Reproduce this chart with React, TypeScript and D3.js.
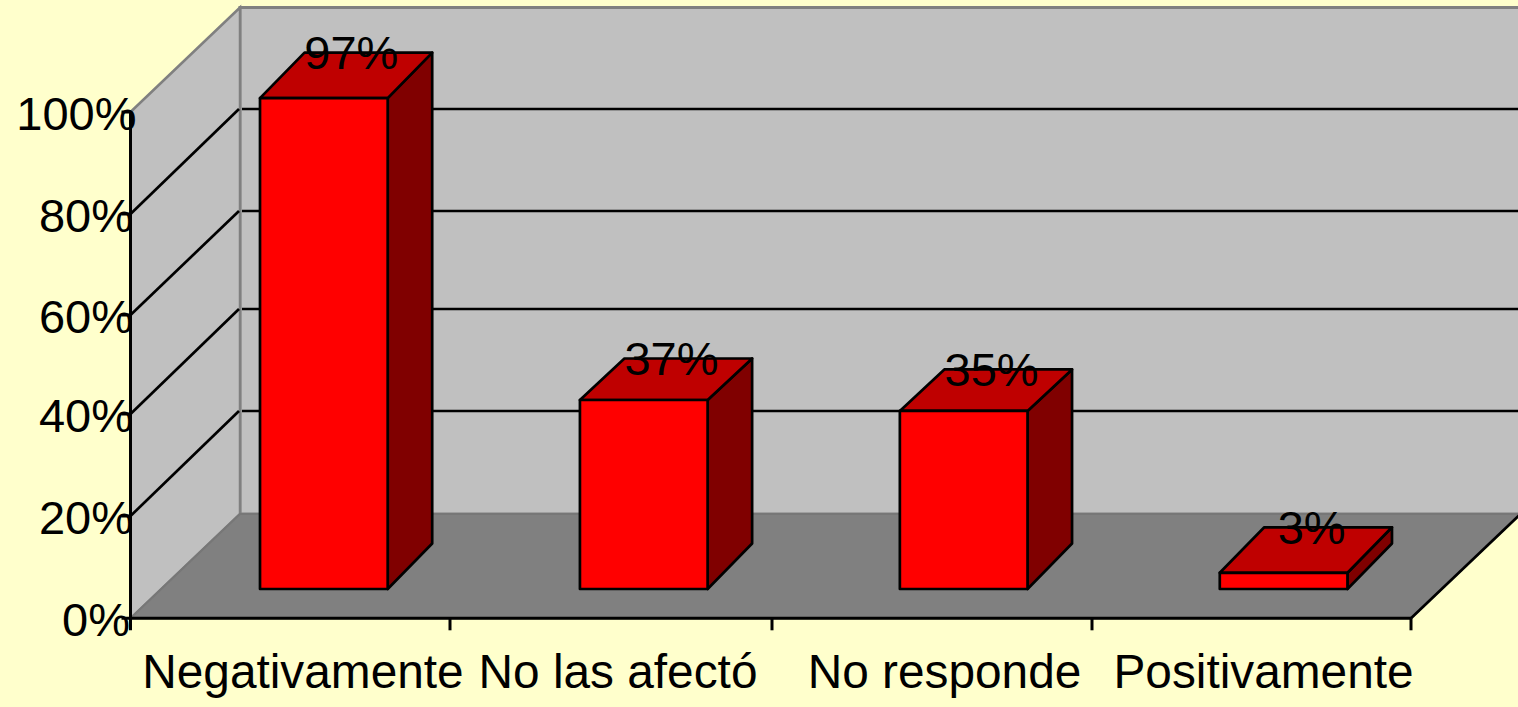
import React from "react";
import * as d3 from "d3";

const categories = ["Negativamente", "No las afectó", "No responde", "Positivamente"];
const values = [97, 37.35, 35.2, 3.2];
const valueLabels = ["97%", "37%", "35%", "3%"];
const axisTicks = [0, 20, 40, 60, 80, 100];
const gridTicks = [20, 40, 60, 80];

const W = 1518;
const H = 707;
const FONT = "'Liberation Sans', Arial, sans-serif";
const LINE = 2.7;
const BASE_Y = 589;

const yFront = d3.scaleLinear().domain(axisTicks).range([618.3, 516, 414, 315, 214, 112]);
const yBack = d3.scaleLinear().domain(axisTicks).range([514, 411, 309, 211, 109, 7.5]);
const yBar = d3.scaleLinear().domain([0, 100]).range([BASE_Y, BASE_Y - 506]);
const xBand = d3.scaleBand<string>().domain(categories).range([130.5, 1411]);
const tickXs = d3.scaleLinear().domain([0, 1, 2, 3, 4]).range([130.5, 450, 772, 1092, 1411]);

const pts = (p: [number, number][]) => p.map((d) => d.join(",")).join(" ");

const barDepthY = (i: number) => (i === 1 || i === 2 ? 41.5 : 45.5);
const labelRight = (t: number) => (t === 100 ? 136.5 : t === 0 ? 130 : 133);
const catShift = (i: number) => [12.4, 7.3, 13.7, 12.6][i];

export default function App() {
  const x0 = yFront(0);
  const left = 130.5;
  const right = 1411;
  const backLeft = 240;
  const backRight = right + (backLeft - left);
  return (
    <svg
      width={W}
      height={H}
      viewBox={`0 0 ${W} ${H}`}
      style={{ position: "fixed", left: 0, top: 0, display: "block", background: "#FFFFCC" }}
    >
      {/* back wall */}
      <rect x={backLeft} y={yBack(100)} width={W} height={yBack(0) - yBack(100)} fill="#C0C0C0" stroke="#808080" strokeWidth={3} />
      {/* side wall */}
      <polygon
        points={pts([[left, yFront(100)], [backLeft, yBack(100)], [backLeft, yBack(0)], [left, x0]])}
        fill="#C0C0C0"
        stroke="#808080"
        strokeWidth={2.5}
      />
      {/* floor */}
      <polygon
        points={pts([[left, x0], [backLeft, yBack(0)], [backRight, yBack(0)], [right, x0]])}
        fill="#808080"
        stroke="#777777"
        strokeWidth={2}
      />
      {/* gridlines */}
      {gridTicks.map((t) => (
        <g key={t} fill="none" stroke="#000" strokeWidth={LINE}>
          <line x1={left} x2={backLeft - 1} y1={yFront(t)} y2={yBack(t)} />
          <line x1={backLeft + 2} x2={W} y1={yBack(t)} y2={yBack(t)} />
        </g>
      ))}
      {/* bars */}
      {categories.map((c, i) => {
        const x = (xBand(c) as number) + 129.5 - i * 0.2;
        const w = 127.7;
        const dx = 44.5;
        const dy = barDepthY(i);
        const yT = yBar(values[i]);
        return (
          <g key={c} stroke="#000" strokeWidth={LINE} strokeLinejoin="round">
            <polygon
              points={pts([[x + w, yT], [x + w + dx, yT - dy], [x + w + dx, BASE_Y - 45.5], [x + w, BASE_Y]])}
              fill="#800000"
            />
            <polygon
              points={pts([[x, yT], [x + dx, yT - dy], [x + w + dx, yT - dy], [x + w, yT]])}
              fill="#BF0000"
            />
            <rect x={x} y={yT} width={w} height={BASE_Y - yT} fill="#FF0000" />
          </g>
        );
      })}
      {/* axes */}
      <g stroke="#000" strokeWidth={3} fill="none">
        <line x1={left} x2={left} y1={yFront(100)} y2={x0 + 12} />
        <line x1={left - 9} x2={right} y1={x0} y2={x0} />
        <line x1={right} x2={backRight} y1={x0} y2={yBack(0)} strokeWidth={LINE} />
        {axisTicks.slice(1).map((t) => (
          <line key={t} x1={left - 9} x2={left} y1={yFront(t)} y2={yFront(t)} />
        ))}
        {[1, 2, 3, 4].map((e) => (
          <line key={e} x1={tickXs(e)} x2={tickXs(e)} y1={x0} y2={x0 + 12} />
        ))}
      </g>
      {/* y labels */}
      {axisTicks.map((t) => (
        <text key={t} x={labelRight(t)} y={yFront(t) + 18} textAnchor="end" fontFamily={FONT} fontSize={47} fill="#000">
          {t}%
        </text>
      ))}
      {/* category labels */}
      {categories.map((c, i) => (
        <text
          key={c}
          x={(xBand(c) as number) + xBand.bandwidth() / 2 + catShift(i)}
          y={688}
          textAnchor="middle"
          fontFamily={FONT}
          fontSize={47.8}
          fill="#000"
        >
          {c}
        </text>
      ))}
      {/* value labels */}
      {categories.map((c, i) => (
        <text
          key={c}
          x={(xBand(c) as number) + 220.8}
          y={yBar(values[i]) - barDepthY(i) + 16.5}
          textAnchor="middle"
          fontFamily={FONT}
          fontSize={47}
          fill="#000"
        >
          {valueLabels[i]}
        </text>
      ))}
    </svg>
  );
}
